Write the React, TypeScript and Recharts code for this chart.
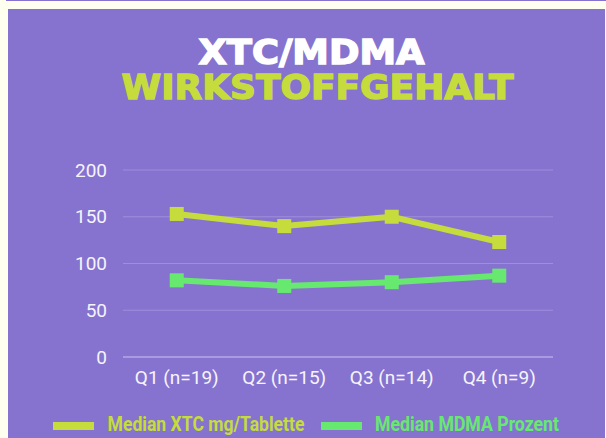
import React from 'react';
import { LineChart, Line, XAxis, YAxis, CartesianGrid } from 'recharts';

const categories = ['Q1 (n=19)', 'Q2 (n=15)', 'Q3 (n=14)', 'Q4 (n=9)'];
const xtcMg = [153, 140, 150, 123];
const mdmaPct = [82, 76, 80, 87];
const yTicks = [0, 50, 100, 150, 200];
const seriesNames = ['Median XTC mg/Tablette', 'Median MDMA Prozent'];
const titleLine1 = 'XTC/MDMA';
const titleLine2 = 'WIRKSTOFFGEHALT';

const PURPLE = '#8673cf';
const CREAM = '#fffff0';
const YELLOW = '#c5dc3c';
const GREEN = '#67e970';

const data = categories.map((c, i) => ({ name: c, xtc: xtcMg[i], mdma: mdmaPct[i] }));

const squareDot = (color: string) => (props: any) => {
  const { cx, cy, index } = props;
  if (cx == null || cy == null) return <g key={index} />;
  return <rect key={index} x={cx - 7} y={cy - 7} width={14} height={14} fill={color} />;
};

export default function App() {
  return (
    <div style={{ position: 'fixed', left: 0, top: 0, width: 606, height: 438, background: CREAM, overflow: 'hidden' }}>
      <div style={{ position: 'absolute', left: 6, top: 0, width: 600, height: 1, background: PURPLE }} />
      <div style={{ position: 'absolute', left: 8, top: 9, width: 597, height: 429, background: PURPLE }} />
      <div style={{ position: 'absolute', left: 0, top: 0 }}>
        <LineChart width={606} height={438} data={data} margin={{ top: 170, right: 53, bottom: 51, left: 60 }}>
          <CartesianGrid vertical={false} stroke="#9e8edd" strokeWidth={1} />
          <XAxis
            dataKey="name"
            height={30}
            padding={{ left: 53.75, right: 53.75 }}
            axisLine={{ stroke: '#c0b5ee', strokeWidth: 1 }}
            tickLine={false}
            tickMargin={8}
            tick={{ fill: '#f6f4fc', fontSize: 19, fontFamily: 'Roboto' }}
            interval={0}
          />
          <YAxis
            width={63}
            domain={[0, 200]}
            ticks={yTicks}
            axisLine={false}
            tickLine={false}
            tickMargin={10}
            tick={{ fill: '#f6f4fc', fontSize: 19, fontFamily: 'Roboto' }}
          />
          <Line
            type="linear"
            dataKey="xtc"
            name={seriesNames[0]}
            stroke={YELLOW}
            strokeWidth={6}
            dot={squareDot(YELLOW)}
            activeDot={false}
            isAnimationActive={false}
          />
          <Line
            type="linear"
            dataKey="mdma"
            name={seriesNames[1]}
            stroke={GREEN}
            strokeWidth={6}
            dot={squareDot(GREEN)}
            activeDot={false}
            isAnimationActive={false}
          />
        </LineChart>
      </div>
      <svg width={606} height={438} style={{ position: 'absolute', left: 0, top: 0, pointerEvents: 'none' }}>
        <text x={198.5} y={64} fill="#ffffff" stroke="#ffffff" strokeWidth={1.4} fontFamily="DejaVu Sans" fontWeight={700} fontSize={33}
          textLength={226} lengthAdjust="spacingAndGlyphs">{titleLine1}</text>
        <text x={121.5} y={99} fill={YELLOW} stroke={YELLOW} strokeWidth={1.4} fontFamily="DejaVu Sans" fontWeight={700} fontSize={34}
          textLength={392} lengthAdjust="spacingAndGlyphs">{titleLine2}</text>
        <rect x={53} y={422} width={41} height={8} fill={YELLOW} />
        <text x={107.5} y={430.5} fill={YELLOW} fontFamily="Roboto" fontWeight={700} fontSize={21}
          textLength={197} lengthAdjust="spacingAndGlyphs">{seriesNames[0]}</text>
        <rect x={321} y={422} width={41} height={8} fill={GREEN} />
        <text x={375} y={430.5} fill={GREEN} fontFamily="Roboto" fontWeight={700} fontSize={21}
          textLength={184} lengthAdjust="spacingAndGlyphs">{seriesNames[1]}</text>
      </svg>
    </div>
  );
}
